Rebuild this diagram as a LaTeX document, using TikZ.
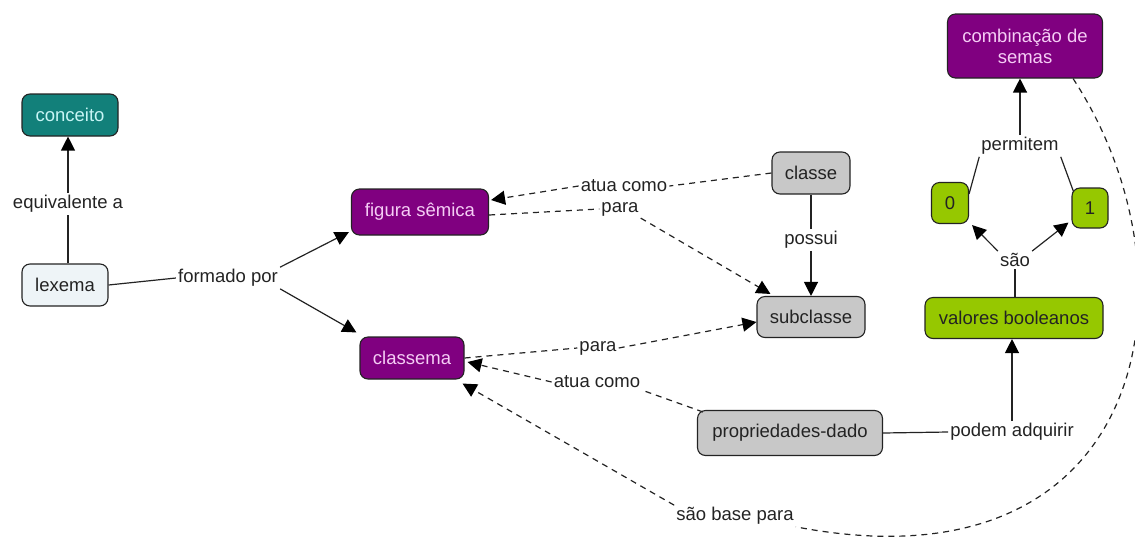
\documentclass[tikz,border=0pt]{standalone}
\usepackage{fontspec}
\setmainfont{Liberation Sans}
\usetikzlibrary{arrows.meta}
\definecolor{purp}{RGB}{128,0,128}
\definecolor{purptext}{RGB}{245,205,245}
\definecolor{teal1}{RGB}{18,128,122}
\definecolor{tealtext}{RGB}{200,245,245}
\definecolor{lightb}{RGB}{238,244,247}
\definecolor{greyb}{RGB}{200,200,200}
\definecolor{greenb}{RGB}{150,200,0}
\definecolor{ink}{RGB}{35,35,35}
\tikzset{
  box/.style={draw=ink, line width=1.1pt, rounded corners=8pt, inner sep=0pt, align=center,
    font=\fontsize{18.5}{21}\selectfont, text=ink},
  purpbox/.style={box, fill=purp, text=purptext},
  tealbox/.style={box, fill=teal1, text=tealtext},
  lightbox/.style={box, fill=lightb},
  greybox/.style={box, fill=greyb},
  greenbox/.style={box, fill=greenb},
  lbl/.style={inner sep=2pt, font=\fontsize{18.5}{21}\selectfont, text=ink},
  con/.style={draw=ink, line width=1.2pt},
  dcon/.style={con, dash pattern=on 6pt off 5pt},
  arr/.style={-{Triangle[length=14pt,width=14pt,color=black]}},
}
\begin{document}
\begin{tikzpicture}[x=1pt,y=-1pt]
\useasboundingbox (0,0) rectangle (1135,539);
% nodes
\node[tealbox, minimum width=96pt, minimum height=42pt] (conceito) at (70,115) {conceito};
\node[lightbox, minimum width=86pt, minimum height=42pt] (lexema) at (65,285) {lexema};
\node[purpbox, minimum width=137pt, minimum height=46pt] (figura) at (420,212) {figura sêmica};
\node[purpbox, minimum width=104pt, minimum height=42pt] (classema) at (412,358) {classema};
\node[greybox, minimum width=78pt, minimum height=42pt] (classe) at (811,173) {classe};
\node[greybox, minimum width=108pt, minimum height=41pt] (subclasse) at (811,317) {subclasse};
\node[greybox, minimum width=185pt, minimum height=45pt] (prop) at (790,433) {propriedades-dado};
\node[greenbox, minimum width=178pt, minimum height=41pt] (valores) at (1014,318) {valores booleanos};
\node[greenbox, minimum width=37pt, minimum height=41pt] (zero) at (950,203) {0};
\node[greenbox, minimum width=36pt, minimum height=40pt] (one) at (1090,208) {1};
\node[purpbox, minimum width=155pt, minimum height=64pt] (comb) at (1025,46) {combinação de\\semas};
% labels
\node[lbl] (Lequiv) at (68,204) {equivalente a};
\node[lbl] (Lformado) at (228,278) {formado por};
\node[lbl] (Latua1) at (624,186) {atua como};
\node[lbl] (Lpara1) at (620,209) {para};
\node[lbl] (Lpossui) at (811,240) {possui};
\node[lbl] (Lpara2) at (598,348) {para};
\node[lbl] (Latua2) at (597,382) {atua como};
\node[lbl] (Lpodem) at (1012,432) {podem adquirir};
\node[lbl] (Lsao) at (1015,260) {são};
\node[lbl] (Lpermitem) at (1020,146) {permitem};
\node[lbl] (Lbase) at (735,516) {são base para};
% connectors
\draw[con] (lexema.north -| Lequiv.south) -- (Lequiv.south);
\draw[con,arr] (Lequiv.north) -- (Lequiv.north |- conceito.south);
\draw[con] (lexema.east) -- (Lformado.west);
\draw[con,arr] (Lformado.north east) -- ([xshift=-2pt,yshift=-20pt]figura.west);
\draw[con,arr] (Lformado.south east) -- ([xshift=-3pt,yshift=4pt]classema.north west);
\draw[dcon] (classe.west) -- (Latua1.east);
\draw[dcon,arr] (Latua1.west) -- ([xshift=2pt,yshift=12pt]figura.east);
\draw[dcon] ([yshift=-3pt]figura.east) -- (Lpara1.west);
\draw[dcon,arr] (Lpara1.south east) -- ([xshift=14pt,yshift=2pt]subclasse.north west);
\draw[con] (classe.south) -- (Lpossui.north);
\draw[con,arr] (Lpossui.south) -- (subclasse.north);
\draw[dcon] (classema.east) -- (Lpara2.west);
\draw[dcon,arr] (Lpara2.east) -- ([yshift=-5pt]subclasse.west);
\draw[dcon] ([xshift=6pt,yshift=-2pt]prop.north west) -- (Latua2.south east);
\draw[dcon,arr] (Latua2.west) -- ([xshift=3pt,yshift=-4pt]classema.east);
\draw[con] (prop.east) -- (Lpodem.west);
\draw[con,arr] (Lpodem.north) -- (Lpodem.north |- valores.south);
\draw[con] (valores.north -| Lsao.south) -- (Lsao.south);
\draw[con,arr] (Lsao.north west) -- ([xshift=3pt,yshift=-1pt]zero.south east);
\draw[con,arr] (Lsao.north east) -- ([xshift=-3pt,yshift=6pt]one.south west);
\draw[con] ([yshift=-12pt]zero.north east) -- (Lpermitem.south west);
\draw[con] ([xshift=2pt,yshift=-4pt]one.north west) -- (Lpermitem.south east);
\draw[con,arr] (Lpermitem.north) -- (Lpermitem.north |- comb.south);
\draw[dcon] ([xshift=-30pt]comb.south east) .. controls (1205,280) and (1150,595) .. (Lbase.south east);
\draw[dcon,arr] (Lbase.north west) -- ([xshift=-2pt,yshift=-4pt]classema.south east);
\end{tikzpicture}
\end{document}
